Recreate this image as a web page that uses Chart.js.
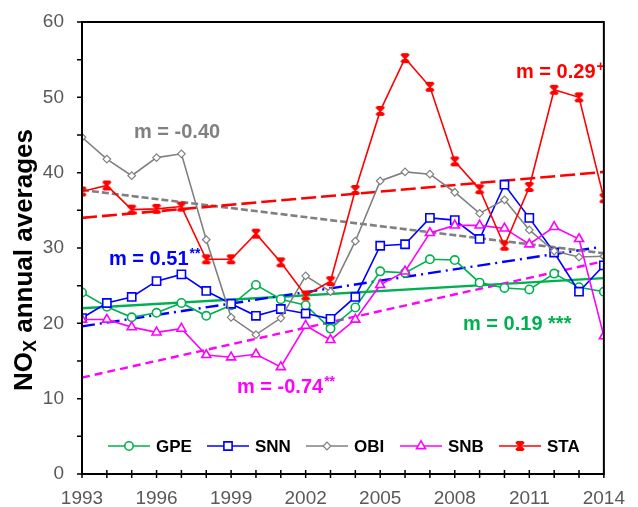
<!DOCTYPE html>
<html>
<head>
<meta charset="utf-8">
<title>NOx annual averages</title>
<script src="https://cdn.jsdelivr.net/npm/chart.js@4.4.1/dist/chart.umd.min.js"></script>
<style>
  html, body { margin: 0; padding: 0; background: #fff; }
  #wrap { width: 638px; height: 507px; }
</style>
</head>
<body>
<div id="wrap"><canvas id="noxChart" width="638" height="507"></canvas></div>
<script>
/* annual NOx averages per station, 1993-2014 */
const years = [1993, 1994, 1995, 1996, 1997, 1998, 1999, 2000, 2001, 2002, 2003,
               2004, 2005, 2006, 2007, 2008, 2009, 2010, 2011, 2012, 2013, 2014];

const gpe = [24.1, 22.2, 20.8, 21.4, 22.7, 21.0, 22.4, 25.1, 23.2, 22.4, 19.3,
             22.1, 26.9, 26.7, 28.5, 28.4, 25.4, 24.7, 24.5, 26.6, 24.8, 24.2];
const snn = [20.7, 22.7, 23.5, 25.6, 26.5, 24.3, 22.6, 21.0, 21.9, 21.3, 20.6,
             23.5, 30.3, 30.5, 34.0, 33.7, 31.2, 38.4, 34.0, 29.4, 24.2, 27.7];
const obi = [44.7, 41.8, 39.6, 42.0, 42.5, 31.1, 20.8, 18.5, 20.7, 26.3, 24.2,
             30.9, 38.9, 40.1, 39.8, 37.4, 34.6, 36.4, 32.4, 29.6, 28.8, 28.9];
const snb = [20.5, 20.5, 19.5, 18.8, 19.3, 15.8, 15.5, 15.9, 14.2, 19.7, 17.8,
             20.5, 25.1, 26.9, 32.0, 33.0, 33.0, 32.6, 30.5, 32.8, 31.2, 18.3];
const sta = [37.5, 38.3, 35.1, 35.2, 35.5, 28.5, 28.5, 31.9, 28.1, 23.7, 25.6,
             37.7, 48.2, 55.2, 51.4, 41.5, 37.8, 30.3, 38.1, 51.0, 50.0, 36.6];

/* linear trend end points [start, end] */
const trendYears = [1993, 2014];
const trendYearsShort = [1993, 2013.8];
const gpeTrend = [22.0, 26.0];
const snnTrend = [19.6, 30.1];
const obiTrend = [37.7, 29.3];
const snbTrend = [12.8, 28.1];
const staTrend = [34.0, 40.1];

/* slope labels */
const slopeLabels = [
  { text: 'm = -0.40',  sup: '',    color: '#808080', x: 134, y: 138 },
  { text: 'm = 0.29',   sup: '+',   color: '#ff0000', x: 516, y: 78 },
  { text: 'm = 0.51',   sup: '**',  color: '#0000ff', x: 109, y: 265 },
  { text: 'm = -0.74',  sup: '**',  color: '#ff00ff', x: 237, y: 393 },
  { text: 'm = 0.19 ***', sup: '',  color: '#00b050', x: 463, y: 330 }
];

const FONT = '"Liberation Sans", Arial, sans-serif';

function starMarker(color) {
  const c = document.createElement('canvas');
  c.width = 12; c.height = 12;
  const g = c.getContext('2d');
  g.strokeStyle = color;
  g.lineWidth = 2.2;
  g.beginPath();
  g.moveTo(2, 2); g.lineTo(10, 10);
  g.moveTo(10, 2); g.lineTo(2, 10);
  g.moveTo(6, 2); g.lineTo(6, 10);
  g.moveTo(3, 2); g.lineTo(9, 2);
  g.moveTo(3, 10); g.lineTo(9, 10);
  g.stroke();
  return c;
}
const staMarker = starMarker('#ff0000');

function pts(xs, ys) {
  return ys.map((v, i) => ({ x: xs[i], y: v }));
}

function series(label, values, color, style, radius, order, bw) {
  return {
    label: label,
    data: pts(years, values),
    borderColor: color,
    backgroundColor: '#ffffff',
    borderWidth: 1.6,
    pointStyle: style,
    pointRadius: radius,
    pointBorderWidth: bw || 1.6,
    pointBackgroundColor: '#ffffff',
    pointBorderColor: color,
    tension: 0,
    order: order
  };
}

function trend(values, xs, color, dash, width, order) {
  return {
    label: '_trend',
    data: pts(xs, values),
    borderColor: color,
    borderWidth: width,
    borderDash: dash,
    pointRadius: 0,
    order: order
  };
}

const stations = [
  series('GPE', gpe, '#00b050', 'circle', 4.2, 5),
  series('SNN', snn, '#0000ff', 'rect', 5.8, 4),
  series('OBI', obi, '#808080', 'rectRot', 3.8, 3, 1.2),
  series('SNB', snb, '#ff00ff', 'triangle', 5.2, 2),
  series('STA', sta, '#ff0000', staMarker, 5, 1)
];

const trends = [
  trend(gpeTrend, trendYears, '#00b050', [], 2.4, 10),
  trend(snnTrend, trendYearsShort, '#0000ff', [13, 5, 2, 5], 2.4, 9),
  trend(obiTrend, trendYears, '#808080', [7, 3], 2.6, 8),
  trend(snbTrend, trendYearsShort, '#ff00ff', [8, 5], 2.4, 7),
  trend(staTrend, trendYears, '#ff0000', [15, 5], 2.6, 6)
];

/* box, crossing ticks and the rotated y title */
const framePlugin = {
  id: 'frame',
  afterDraw(chart) {
    const { ctx, chartArea: a, scales: { x, y } } = chart;
    ctx.save();
    ctx.strokeStyle = '#000';
    ctx.lineWidth = 2;
    ctx.strokeRect(a.left, a.top, a.right - a.left, a.bottom - a.top);
    ctx.lineWidth = 1.5;
    ctx.beginPath();
    x.ticks.forEach(t => {
      const px = x.getPixelForValue(t.value);
      ctx.moveTo(px, a.bottom - 4);
      ctx.lineTo(px, a.bottom + 4);
    });
    y.ticks.forEach(t => {
      const py = y.getPixelForValue(t.value);
      ctx.moveTo(a.left - 5, py);
      ctx.lineTo(a.left, py);
    });
    ctx.stroke();

    // y title: NO with subscript x
    ctx.translate(24, 260);
    ctx.rotate(-Math.PI / 2);
    ctx.fillStyle = '#000';
    ctx.textBaseline = 'alphabetic';
    const big = 'bold 26px ' + FONT, small = 'bold 18px ' + FONT;
    ctx.font = big;
    const w1 = ctx.measureText('NO').width;
    const w3 = ctx.measureText(' annual averages').width;
    ctx.font = small;
    const w2 = ctx.measureText('X').width;
    let cx = -(w1 + w2 + w3) / 2;
    const base = 8;
    ctx.font = big;
    ctx.fillText('NO', cx, base);
    cx += w1;
    ctx.font = small;
    ctx.fillText('X', cx, base + 4);
    cx += w2;
    ctx.font = big;
    ctx.fillText(' annual averages', cx, base);
    ctx.restore();
  }
};

/* slope labels and the in-plot legend */
const notesPlugin = {
  id: 'notes',
  afterDatasetsDraw(chart) {
    const ctx = chart.ctx;
    ctx.save();
    ctx.textBaseline = 'alphabetic';
    slopeLabels.forEach(s => {
      ctx.fillStyle = s.color;
      ctx.font = 'bold 20px ' + FONT;
      ctx.fillText(s.text, s.x, s.y);
      if (s.sup) {
        const w = ctx.measureText(s.text).width;
        ctx.font = 'bold 14px ' + FONT;
        ctx.fillText(s.sup, s.x + w + 1, s.y - 7);
      }
    });

    // legend row
    const ly = 446;
    const lx = [108, 207, 306, 400, 499];
    stations.forEach((ds, i) => {
      const x0 = lx[i];
      ctx.strokeStyle = ds.borderColor;
      ctx.lineWidth = 1.6;
      ctx.setLineDash([]);
      ctx.beginPath();
      ctx.moveTo(x0, ly);
      ctx.lineTo(x0 + 42, ly);
      ctx.stroke();
      ctx.fillStyle = '#fff';
      ctx.lineWidth = ds.pointBorderWidth;
      if (Chart.helpers && Chart.helpers.drawPoint) {
        Chart.helpers.drawPoint(ctx, {
          pointStyle: ds.pointStyle,
          radius: ds.pointRadius,
          rotation: 0,
          borderWidth: ds.pointBorderWidth
        }, x0 + 21, ly);
      }
      ctx.fillStyle = '#000';
      ctx.font = 'bold 17px ' + FONT;
      ctx.textBaseline = 'middle';
      ctx.fillText(ds.label, x0 + 48, ly + 1);
      ctx.textBaseline = 'alphabetic';
    });
    ctx.restore();
  }
};

new Chart(document.getElementById('noxChart'), {
  type: 'line',
  data: { datasets: stations.concat(trends) },
  options: {
    responsive: false,
    devicePixelRatio: 1,
    animation: false,
    layout: { padding: { top: 22, right: 24, left: 0, bottom: 0 } },
    plugins: {
      legend: { display: false },
      tooltip: { enabled: false }
    },
    scales: {
      x: {
        type: 'linear',
        min: 1993,
        max: 2014,
        grid: { display: false, drawTicks: false },
        border: { display: false },
        afterFit: s => { s.height = 33; },
        ticks: {
          stepSize: 1,
          autoSkip: false,
          maxRotation: 0,
          padding: 13,
          color: '#595959',
          font: { family: FONT, size: 19 },
          callback: v => ((v - 1993) % 3 === 0 ? String(v) : '')
        }
      },
      y: {
        min: 0,
        max: 60,
        grid: { display: false, drawTicks: true, tickLength: 8 },
        border: { display: false },
        afterFit: s => { s.width = 82; },
        ticks: {
          stepSize: 5,
          padding: 10,
          color: '#595959',
          font: { family: FONT, size: 19 },
          callback: v => (v % 10 === 0 ? v : '')
        }
      }
    }
  },
  plugins: [framePlugin, notesPlugin]
});
</script>
</body>
</html>
